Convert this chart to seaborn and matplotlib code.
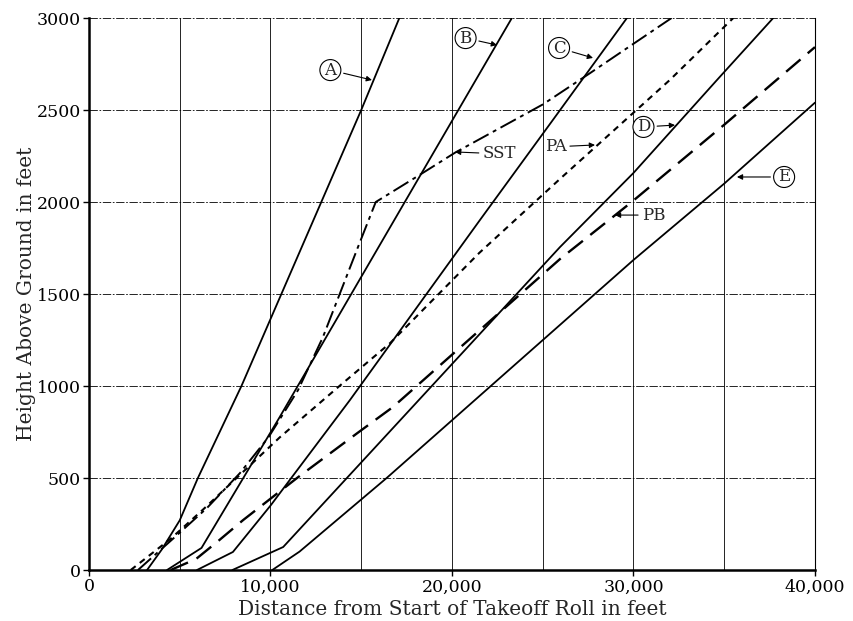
import numpy as np
import pandas as pd
import matplotlib
matplotlib.use("Agg")
import matplotlib.pyplot as plt
import seaborn as sns

# ---- data (distance ft, height ft) ----
a_x = [3200, 4000, 5000, 6000, 8400, 15000, 17100]
a_y = [0, 110, 270, 500, 1000, 2500, 3000]
b_x = [4300, 6200, 10500, 17400, 23300]
b_y = [0, 120, 830, 2000, 3000]
c_x = [5950, 7930, 10000, 14380, 21540, 25560, 29640]
c_y = [0, 98, 350, 924, 1902, 2446, 3000]
d_x = [7900, 10700, 25950, 30000, 34600, 37700]
d_y = [0, 125, 1755, 2158, 2663, 3000]
e_x = [10100, 11600, 16400, 30000, 35000, 40000]
e_y = [0, 100, 500, 1685, 2100, 2540]
sst_x = [2700, 4630, 6500, 8320, 9900, 11520, 12890, 14820, 15800, 18100, 20200, 25000, 27600, 30000, 32100]
sst_y = [0, 170, 337, 527, 723, 978, 1266, 1755, 2000, 2140, 2270, 2530, 2700, 2860, 3000]
pa_x = [2300, 4500, 6300, 10500, 13800, 16600, 21500, 26000, 32000, 35500]
pa_y = [0, 170, 330, 720, 1000, 1234, 1723, 2130, 2663, 3000]
pb_x = [4500, 5900, 7150, 8500, 11460, 14770, 16750, 25950, 29900, 35000, 40000]
pb_y = [0, 60, 160, 272, 500, 743, 886, 1690, 2000, 2420, 2842]

x_ticks = [0, 10000, 20000, 30000, 40000]
x_tick_labels = ["0", "10,000", "20,000", "30,000", "40,000"]
y_ticks = [0, 500, 1000, 1500, 2000, 2500, 3000]
y_tick_labels = ["0", "500", "1000", "1500", "2000", "2500", "3000"]

sns.set_theme(style="white")
plt.rcParams['font.family'] = ['DejaVu Serif', 'Liberation Serif']

fig = plt.figure(figsize=(8.54, 6.21), dpi=100)
ax = fig.add_axes([0.1042, 0.0821, 0.8501, 0.8889])

# grid
for gx in range(5000, 40001, 5000):
    ax.axvline(gx, color='black', lw=0.6, zorder=0)
for gy in range(500, 3001, 500):
    ax.axhline(gy, color='black', lw=0.6, dashes=(10, 2, 2, 2), zorder=0)

series = [
    (a_x, a_y), (b_x, b_y), (c_x, c_y), (d_x, d_y), (e_x, e_y),
]
for xs, ys in series:
    sns.lineplot(x=xs, y=ys, ax=ax, estimator=None, sort=False,
                 color='black', lw=1.3)

sns.lineplot(x=sst_x, y=sst_y, ax=ax, estimator=None, sort=False,
             color='black', lw=1.4)
ax.lines[-1].set_dashes((9, 2.5, 2, 2.5))
sns.lineplot(x=pa_x, y=pa_y, ax=ax, estimator=None, sort=False,
             color='black', lw=1.5)
ax.lines[-1].set_dashes((3, 2.5))
sns.lineplot(x=pb_x, y=pb_y, ax=ax, estimator=None, sort=False,
             color='black', lw=1.7)
ax.lines[-1].set_dashes((8, 4))

ax.set_xlim(0, 40000)
ax.set_ylim(0, 3000)
ax.set_xticks(x_ticks)
ax.set_xticklabels(x_tick_labels)
ax.set_yticks(y_ticks)
ax.set_yticklabels(y_tick_labels)
ax.tick_params(axis='both', labelsize=12.5, length=4, width=1, direction='out',
               colors='black', bottom=True, left=True, pad=2)

for s in ['left', 'bottom']:
    ax.spines[s].set_linewidth(1.8)
    ax.spines[s].set_color('black')
ax.spines['right'].set_linewidth(0.8)
ax.spines['right'].set_color('black')
ax.spines['top'].set_visible(False)

ax.set_xlabel("Distance from Start of Takeoff Roll in feet", fontsize=14.5, labelpad=3)
ax.set_ylabel("Height Above Ground in feet", fontsize=14.5, labelpad=0)

# labels with arrows
arrow = dict(arrowstyle='-|>', color='black', lw=0.8, mutation_scale=8,
             shrinkA=2, shrinkB=0)
circ = dict(boxstyle='circle,pad=0.12', fc='white', ec='black', lw=0.8)
annots = [
    ("A", (15590, 2663), (13300, 2717), True),
    ("B", (22480, 2853), (20750, 2891), True),
    ("C", (27770, 2783), (25900, 2837), True),
    ("D", (32290, 2418), (30550, 2408), True),
    ("E", (35700, 2136), (38300, 2136), True),
    ("SST", (20170, 2272), (22600, 2262), False),
    ("PA", (27880, 2310), (25700, 2300), False),
    ("PB", (28980, 1929), (31100, 1929), False),
]
for txt, xy, xyt, circled in annots:
    ax.annotate(txt, xy=xy, xytext=xyt, ha='center', va='center',
                fontsize=12,
                bbox=circ if circled else dict(boxstyle='square,pad=0.05', fc='none', ec='none'),
                arrowprops=arrow, zorder=5)

fig.savefig("out.png", dpi=100)
